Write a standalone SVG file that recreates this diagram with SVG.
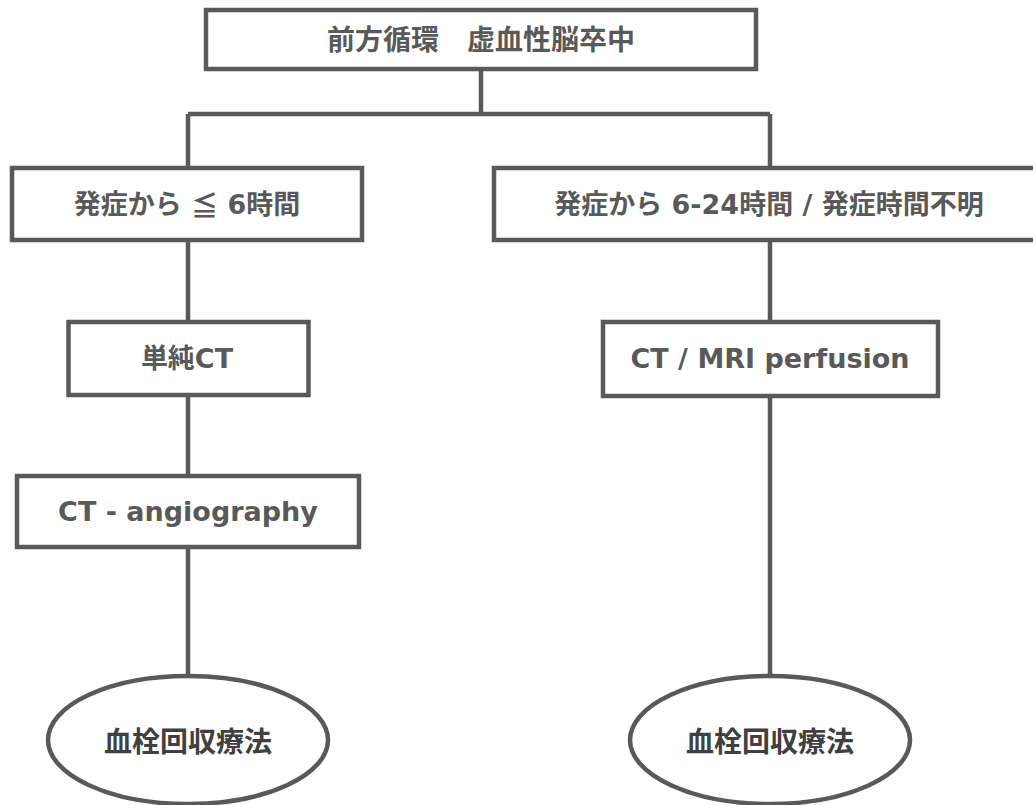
<svg xmlns="http://www.w3.org/2000/svg" width="1033" height="805" viewBox="0 0 1033 805">
  <style>
    .box { fill: #ffffff; stroke: #595959; stroke-width: 4.5; }
    .conn { fill: none; stroke: #595959; stroke-width: 4.5; }
    .t { font-family: "DejaVu Sans", "Noto Sans CJK JP", sans-serif; font-weight: bold; font-size: 27px; fill: #595959; text-anchor: middle; dominant-baseline: central; }
    .cjk { font-family: "Noto Sans CJK JP", sans-serif; }
    .te { font-family: "Noto Sans CJK JP", sans-serif; font-weight: bold; font-size: 28px; fill: #404040; text-anchor: middle; dominant-baseline: central; }
  </style>
  <rect width="1033" height="805" fill="#ffffff"/>
  <g id="connectors">
    <path class="conn" d="M481,69 V114 M188,114 H770 M188,114 V168 M770,114 V168"/>
    <path class="conn" d="M188,240 V322 M188,395 V476 M188,547 V676"/>
    <path class="conn" d="M770,240 V322 M770,396 V676"/>
  </g>
  <g id="n-top">
    <rect class="box" x="206" y="10" width="550" height="59"/>
    <text class="t" x="481" y="40" style="font-size:28px">前方循環　虚血性脳卒中</text>
  </g>
  <g id="n-left1">
    <rect class="box" x="12" y="168" width="350" height="72"/>
    <text class="t" x="187" y="204">発症から <tspan class="cjk">≦</tspan> 6時間</text>
  </g>
  <g id="n-right1">
    <rect class="box" x="494" y="168" width="545" height="72"/>
    <text class="t" x="769" y="204">発症から 6-24時間 / 発症時間不明</text>
  </g>
  <g id="n-left2">
    <rect class="box" x="68.5" y="322" width="240" height="73"/>
    <text class="t" x="187" y="358">単純CT</text>
  </g>
  <g id="n-right2">
    <rect class="box" x="603" y="322" width="335" height="74"/>
    <text class="t" x="770" y="358">CT / MRI perfusion</text>
  </g>
  <g id="n-left3">
    <rect class="box" x="17" y="476" width="342" height="71"/>
    <text class="t" x="188" y="511">CT - angiography</text>
  </g>
  <g id="n-left4">
    <ellipse class="box" cx="188" cy="740" rx="140" ry="64"/>
    <text class="te" x="188" y="740">血栓回収療法</text>
  </g>
  <g id="n-right4">
    <ellipse class="box" cx="770" cy="740" rx="140" ry="64"/>
    <text class="te" x="770" y="740">血栓回収療法</text>
  </g>
</svg>
